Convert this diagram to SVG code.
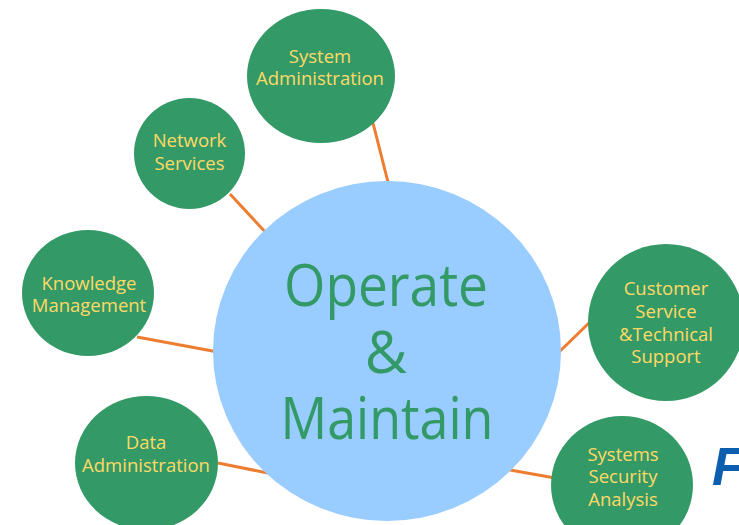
<svg xmlns="http://www.w3.org/2000/svg" width="739" height="525" viewBox="0 0 739 525">
<style>
.sat{fill:#339966}
.lbl{font-family:"Open Sans","Noto Sans",sans-serif;font-size:18.5px;fill:#FFD966;text-anchor:middle}
.conn line{stroke:#ED7D31;stroke-width:3}
.hub{font-family:"Open Sans","Noto Sans",sans-serif;font-size:58px;fill:#339966;text-anchor:middle}
</style>
<rect width="739" height="525" fill="#ffffff"/>
<g id="connectors" class="conn">
<line x1="373" y1="123" x2="390" y2="190"/>
<line x1="230" y1="194" x2="268" y2="235"/>
<line x1="137" y1="337" x2="218" y2="352"/>
<line x1="218" y1="463" x2="268" y2="473"/>
<line x1="557" y1="354" x2="590" y2="322"/>
<line x1="510" y1="470" x2="555" y2="478"/>
</g>
<g id="hub">
<ellipse cx="387" cy="351" rx="174" ry="170" fill="#99CCFF"/>
<text class="hub" x="386" y="306" textLength="204" lengthAdjust="spacingAndGlyphs">Operate</text>
<text class="hub" x="386" y="373">&amp;</text>
<text class="hub" x="387" y="439" textLength="213" lengthAdjust="spacingAndGlyphs">Maintain</text>
</g>
<g id="system-administration">
<ellipse class="sat" cx="321" cy="76" rx="74" ry="67"/>
<text class="lbl" x="320" y="63">System</text>
<text class="lbl" x="320" y="85">Administration</text>
</g>
<g id="network-services">
<ellipse class="sat" cx="189.5" cy="153.5" rx="55.5" ry="55.5"/>
<text class="lbl" x="189.5" y="147">Network</text>
<text class="lbl" x="189.5" y="170">Services</text>
</g>
<g id="knowledge-management">
<ellipse class="sat" cx="88" cy="293" rx="66" ry="63"/>
<text class="lbl" x="89" y="290">Knowledge</text>
<text class="lbl" x="89" y="312">Management</text>
</g>
<g id="data-administration">
<ellipse class="sat" cx="146.5" cy="463" rx="71.5" ry="67"/>
<text class="lbl" x="146" y="449">Data</text>
<text class="lbl" x="146" y="472">Administration</text>
</g>
<g id="customer-service">
<ellipse class="sat" cx="666" cy="322.5" rx="78" ry="78.5"/>
<text class="lbl" x="666" y="295">Customer</text>
<text class="lbl" x="666" y="318">Service</text>
<text class="lbl" x="666" y="341">&amp;Technical</text>
<text class="lbl" x="666" y="363">Support</text>
</g>
<g id="systems-security-analysis">
<ellipse class="sat" cx="622" cy="485" rx="71" ry="69"/>
<text class="lbl" x="623" y="461">Systems</text>
<text class="lbl" x="623" y="483">Security</text>
<text class="lbl" x="623" y="506">Analysis</text>
</g>
<text x="712" y="485" font-family="'Liberation Sans',Arial,sans-serif" font-size="53" font-weight="bold" font-style="italic" fill="#0B5FAE">F</text>
</svg>
